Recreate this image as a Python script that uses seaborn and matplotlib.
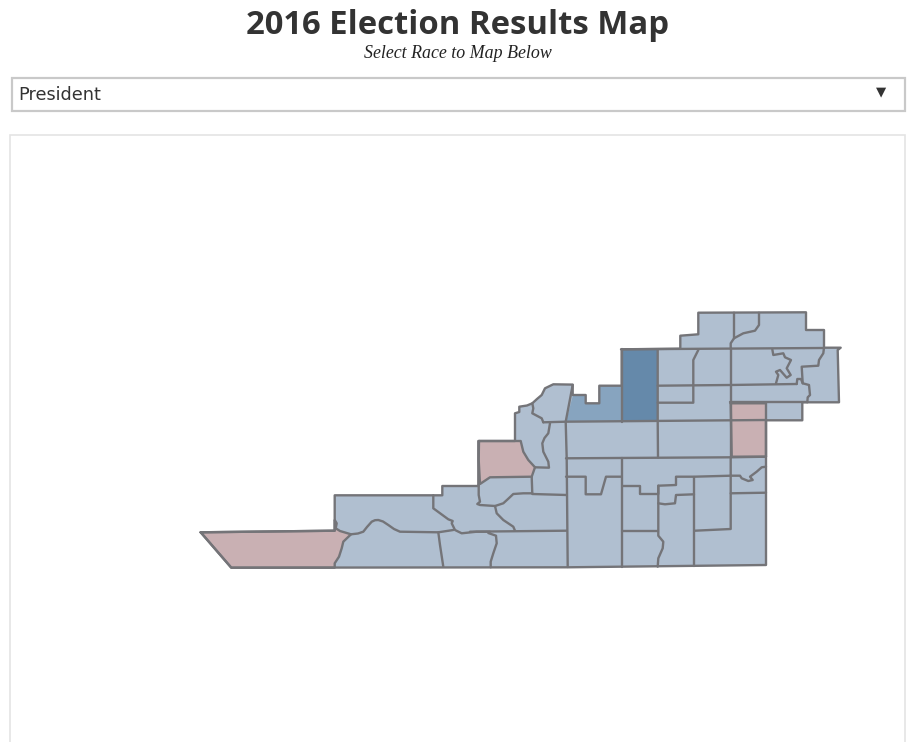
import matplotlib
matplotlib.use("Agg")
import matplotlib.pyplot as plt
from matplotlib.patches import Rectangle
import pandas as pd
import seaborn as sns

TITLE = "2016 Election Results Map"
SUBTITLE = "Select Race to Map Below"
SELECTED = "President"

# Map geometry in picture coordinates
outline = [(200.7,532.3),(334.7,530.7),(334.7,495.3),(442.3,495.3),(442.3,486),(478.3,486),(478.3,441),(515,441),
           (515,413.3),(519.3,412),(519.3,406.7),(527,405.5),(532.3,403.3),(537,399),(541.7,395),(545,388.3),(553.3,384.3),(572.7,384.6),
           (572.7,395),(585.7,395),(585.7,403.3),(599.3,403.3),(599.3,385.7),(621.7,385.7),(621.7,349.3),(680.3,348.7),
           (680.3,335.7),(698.3,334.3),(698.3,312.7),(806,312.3),(806,330),(824,330),(824,347.7),(840.7,347.7),
           (837.7,350),(839,402.3),(802.3,402.3),(802.3,420.3),(766,420.3),(766,565),(567.7,567.3),(231.3,567.7)]
red_sw = [(200.7,532.3),(334.7,530.7),(334.7,520),(336.7,523.3),(335.7,528.3),(340,531),(351,534.3),(343.3,541.7),
          (341.7,548.3),(339,556.7),(334.7,563.3),(334.7,567.7),(231.3,567.7)]
red_mid = [(479,441),(520.7,441),(523.3,451.7),(528.3,460),(535,467.3),(531.7,476.7),(490,477.3),(480,484),(478.7,460)]
red_ne = [(730.7,403.3),(766,403.3),(766,456.7),(731.7,456.7)]
dark_blue = [(621.7,349.3),(657.7,349.3),(657.7,421),(621.7,421)]
mid_blue = [(572.7,395),(585.7,395),(585.7,403.3),(599.3,403.3),(599.3,385.7),(621.7,385.7),(621.7,421.7),(565.7,421.7)]

boundaries = [
    [(543.3,422.3),(565.7,421.7),(766,420)],
    [(621.7,349.3),(621.7,421.7)],
    [(657.7,349.3),(657.7,421),(658,457.5)],
    [(566,458.3),(730.7,457.3),(766,456.7)],
    [(565.7,421.7),(566.7,458.3),(567.7,567)],
    [(566,476.7),(585.7,476.7),(585.7,494.3),(601,494.3),(606,476.7),(621.7,476.7)],
    [(622,458.3),(622,567)],
    [(622.3,486),(640,486),(640,494),(658.3,494),(658.3,485.7),(676,485),(676,476.7),(694,476.7),(730.7,475.7)],
    [(694,476.7),(694,566)],
    [(658.3,485.7),(658.3,503.3),(658.3,535.7),(663.3,541.7),(662.7,548.3),(658.3,558.3),(657.7,566.7)],
    [(658.3,503.3),(665,504.3),(675,503.3),(676,495),(694,494.3)],
    [(622.3,530.7),(657.7,530.7)],
    [(695,530.7),(730.7,529),(730.7,457.3)],
    [(730.7,493.3),(766,492.7)],
    [(730.7,475.7),(740,475.7),(741.7,478.3),(748.3,481),(752.7,480),(750,476.7),(756.7,471.7),(761.7,467.3),(766,466.7)],
    [(550,423.3),(548.3,433.3),(544.5,438),(542.3,443.3),(543.3,451.7),(548.3,461.7),(549,467.7),(535,467.3)],
    [(565.7,421.7),(572.7,385)],
    [(532.3,403.3),(533.3,408.3),(532.3,413.3),(541.7,418.3),(543.3,422.3)],
    [(531.7,476.7),(532.3,494),(566.7,495)],
    [(532.3,493.3),(523.3,493.3),(513.3,494),(508,499),(503.3,503.3),(495,506),(480,505),(477.3,504),(480,501.7),(478.7,495),(478.7,485)],
    [(495,506),(496.7,513.3),(503.3,520),(513.3,526.7),(515,530.7)],
    [(470,531.7),(566.7,530.7)],
    [(488.3,533),(496,535.7),(496.7,543.3),(493.3,553.3),(490.7,561.7),(490.7,567.3)],
    [(433.3,495.3),(433.3,508.3),(448.3,519.3),(452.7,521),(451.7,523.3),(455,530),(461.7,533.3),(476.7,531.7),(490,531.7)],
    [(351,534.3),(358,533.5),(363.3,531.7),(367,527),(371.7,521.7),(375,520.2),(378.3,520),(383,521.5),(388.3,525),(394,529),(400,531.7),(438.3,532.3),(453.3,530)],
    [(438.3,532.3),(440,545),(443.3,566.7)],
    [(730.7,348),(730.7,457)],
    [(621,349.3),(823,348)],
    [(734,312.7),(734,338.3),(730.7,343.3),(730.7,349)],
    [(759,312.7),(759,325),(755,330.7),(743.3,333.3),(734,338.3)],
    [(698.3,350),(693.3,360),(693.3,402.7),(657.7,402.7)],
    [(657.7,385.7),(730,385),(796.7,384)],
    [(730,402.3),(807.3,402.3)],
    [(796.7,384),(797.3,379),(801,379),(802.7,383.3),(809,385),(810,395),(807.7,397.3),(807.3,402.3)],
    [(802.7,383.3),(801.7,366.7),(818.3,365.7),(819,360),(823.3,353.3),(824,347.7)],
    [(772.3,349.3),(773.3,355),(783.3,353.3),(785,357.3),(791,360),(786.7,368.3),(790.7,375),(786.7,377.7),(780,370),
     (776,371.7),(778.3,375),(776,383.3)],
]

COL_BASE, COL_RED, COL_DARK, COL_MID = "#b0bfd0", "#c9b0b3", "#6589aa", "#87a4bf"
COL_LINE = "#747478"

sns.set_theme(style="white")
fig = plt.figure(figsize=(9.14, 7.42), dpi=100)
ax = fig.add_axes([0, 0, 1, 1])
ax.set_xlim(0, 914)
ax.set_ylim(742, 0)
ax.axis("off")

# page furniture
ax.add_patch(Rectangle((10, 135), 895, 640, fc="white", ec="#e4e4e4", lw=1.2, clip_on=True))
ax.add_patch(Rectangle((12, 78), 892.5, 32.5, fc="white", ec="#c9c9c9", lw=1.6))

for poly, col in [(outline, COL_BASE), (red_sw, COL_RED), (red_mid, COL_RED), (red_ne, COL_RED),
                  (dark_blue, COL_DARK), (mid_blue, COL_MID)]:
    xs, ys = zip(*poly)
    ax.fill(xs, ys, facecolor=col, edgecolor="none", zorder=2)

rows = []
closed = [outline + outline[:1], red_sw + red_sw[:1], red_mid + red_mid[:1], red_ne + red_ne[:1]]
for i, line in enumerate(boundaries + closed):
    for j, (x, y) in enumerate(line):
        rows.append({"line": i, "order": j, "x": x, "y": y})
df = pd.DataFrame(rows)
sns.lineplot(data=df, x="x", y="y", units="line", estimator=None, sort=False, color=COL_LINE,
             linewidth=1.7, ax=ax, legend=False, zorder=3, solid_joinstyle="round")
ax.set_xlim(0, 914)
ax.set_ylim(742, 0)
ax.axis("off")

ax.text(458, 25, TITLE, ha="center", va="center", fontsize=23.7, fontweight="bold", color="#333333",
        family="Open Sans")
ax.text(458, 53, SUBTITLE, ha="center", va="center", fontsize=12.9, style="italic", color="#222222",
        family="Liberation Serif")
ax.text(18, 95, SELECTED, ha="left", va="center", fontsize=12.7, color="#333333", family="DejaVu Sans")
ax.text(881, 92, "\u25BC", ha="center", va="center", fontsize=9.5, color="#333333", family="DejaVu Sans")

fig.savefig("out.png", dpi=100)
